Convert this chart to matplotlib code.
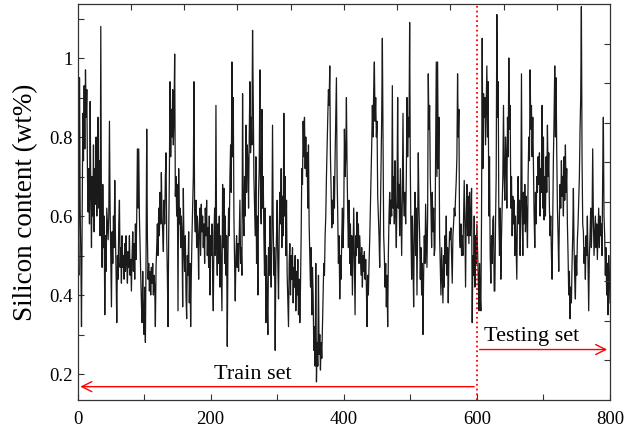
import numpy as np
import matplotlib
matplotlib.use("Agg")
from matplotlib import pyplot as plt

# silicon content, one value per sample (samples 1..800)
silicon = [
    0.59, 0.45, 0.95, 0.62, 0.50, 0.32, 0.60, 0.86, 0.74, 0.93, 0.77, 0.97, 0.85, 0.92, 0.70, 0.61, 0.72, 0.58, 0.89, 0.66,
    0.52, 0.70, 0.60, 0.78, 0.56, 0.72, 0.63, 0.80, 0.60, 0.70, 0.85, 0.62, 0.74, 0.55, 1.08, 0.58, 0.47, 0.68, 0.52, 0.60,
    0.35, 0.55, 0.46, 0.62, 0.58, 0.54, 0.60, 0.84, 0.62, 0.50, 0.37, 0.56, 0.48, 0.60, 0.52, 0.69, 0.55, 0.45, 0.33, 0.50,
    0.44, 0.58, 0.64, 0.47, 0.52, 0.43, 0.55, 0.47, 0.50, 0.44, 0.53, 0.46, 0.55, 0.48, 0.43, 0.51, 0.47, 0.55, 0.45, 0.49,
    0.41, 0.50, 0.56, 0.46, 0.53, 0.44, 0.58, 0.49, 0.60, 0.77, 0.62, 0.77, 0.60, 0.52, 0.45, 0.38, 0.33, 0.46, 0.35, 0.30,
    0.42, 0.28, 0.50, 0.82, 0.55, 0.44, 0.48, 0.41, 0.46, 0.40, 0.47, 0.43, 0.48, 0.40, 0.45, 0.42, 0.32, 0.47, 0.52, 0.58,
    0.50, 0.62, 0.55, 0.66, 0.58, 0.71, 0.60, 0.56, 0.51, 0.64, 0.58, 0.70, 0.76, 0.55, 0.45, 0.32, 0.55, 0.70, 0.94, 0.75,
    0.87, 0.80, 0.92, 0.78, 0.86, 1.01, 0.65, 0.70, 0.60, 0.68, 0.36, 0.72, 0.58, 0.62, 0.52, 0.60, 0.55, 0.37, 0.67, 0.52,
    0.46, 0.55, 0.40, 0.34, 0.50, 0.45, 0.56, 0.38, 0.48, 0.32, 0.45, 0.55, 0.62, 0.70, 0.94, 0.60, 0.56, 0.64, 0.52, 0.60,
    0.55, 0.44, 0.58, 0.62, 0.50, 0.63, 0.56, 0.60, 0.52, 0.58, 0.48, 0.62, 0.55, 0.64, 0.50, 0.57, 0.47, 0.60, 0.40, 0.55,
    0.50, 0.58, 0.45, 0.36, 0.55, 0.62, 0.50, 0.88, 0.52, 0.45, 0.58, 0.48, 0.60, 0.42, 0.55, 0.46, 0.36, 0.68, 0.52, 0.67,
    0.48, 0.60, 0.45, 0.55, 0.27, 0.50, 0.62, 0.55, 0.70, 0.78, 0.66, 0.99, 0.75, 0.90, 0.60, 0.48, 0.385, 0.50, 0.55, 0.47,
    0.53, 0.46, 0.55, 0.64, 0.48, 0.52, 0.45, 0.91, 0.62, 0.55, 0.70, 0.60, 0.83, 0.66, 0.78, 0.74, 0.62, 0.80, 0.94, 0.76,
    0.85, 0.78, 1.07, 0.90, 0.70, 0.62, 0.55, 0.75, 0.48, 0.60, 0.40, 0.66, 0.72, 0.97, 0.65, 0.58, 0.87, 0.62, 0.70, 0.55,
    0.45, 0.62, 0.33, 0.50, 0.38, 0.30, 0.52, 0.45, 0.60, 0.50, 0.42, 0.55, 0.83, 0.58, 0.45, 0.52, 0.26, 0.48, 0.55, 0.64,
    0.48, 0.39, 0.55, 0.66, 0.58, 0.72, 0.52, 0.65, 0.55, 0.86, 0.60, 0.70, 0.50, 0.64, 0.45, 0.38, 0.32, 0.48, 0.53, 0.40,
    0.50, 0.44, 0.52, 0.38, 0.47, 0.42, 0.50, 0.36, 0.46, 0.40, 0.49, 0.35, 0.44, 0.33, 0.42, 0.55, 0.72, 0.68, 0.84, 0.75,
    0.85, 0.72, 0.80, 0.70, 0.76, 0.62, 0.78, 0.58, 0.50, 0.42, 0.52, 0.35, 0.47, 0.40, 0.26, 0.32, 0.22, 0.48, 0.18, 0.28,
    0.22, 0.45, 0.25, 0.30, 0.21, 0.28, 0.24, 0.32, 0.40, 0.48, 0.45, 0.55, 0.60, 0.70, 0.78, 0.85, 0.92, 0.88, 0.98, 0.75,
    0.67, 0.57, 0.64, 0.58, 0.70, 0.62, 0.75, 0.85, 0.95, 0.70, 0.60, 0.48, 0.55, 0.39, 0.50, 0.44, 0.55, 0.62, 0.52, 0.60,
    0.82, 0.70, 0.75, 0.90, 0.72, 0.60, 0.52, 0.64, 0.48, 0.58, 0.45, 0.55, 0.40, 0.52, 0.62, 0.48, 0.35, 0.55, 0.50, 0.61,
    0.52, 0.58, 0.48, 0.55, 0.50, 0.45, 0.52, 0.42, 0.50, 0.46, 0.51, 0.44, 0.49, 0.42, 0.32, 0.45, 0.40, 0.48, 0.54, 0.62,
    0.70, 0.78, 0.88, 0.80, 0.92, 0.99, 0.84, 0.90, 0.80, 0.84, 0.65, 0.60, 0.55, 0.47, 0.60, 0.72, 0.85, 1.05, 0.80, 0.55,
    0.50, 0.42, 0.48, 0.37, 0.45, 0.32, 0.50, 0.60, 0.66, 0.58, 0.64, 0.60, 0.93, 0.62, 0.70, 0.58, 0.74, 0.60, 0.52, 0.66,
    0.90, 0.62, 0.68, 0.55, 0.72, 0.60, 0.50, 0.65, 0.86, 0.64, 0.60, 0.66, 0.58, 0.70, 0.90, 0.75, 0.85, 0.80, 1.09, 0.72,
    0.55, 0.44, 0.60, 0.50, 0.37, 0.58, 0.66, 0.50, 0.62, 0.40, 0.58, 0.76, 0.62, 0.55, 0.44, 0.52, 0.40, 0.48, 0.30, 0.45,
    0.55, 0.48, 0.63, 0.55, 0.47, 0.60, 0.96, 0.82, 0.88, 0.70, 0.62, 0.52, 0.66, 0.56, 0.62, 0.50, 0.52, 0.75, 0.99, 0.70,
    0.99, 0.72, 0.85, 0.55, 0.48, 0.40, 0.52, 0.45, 0.38, 0.50, 0.42, 0.55, 0.48, 0.60, 0.45, 0.52, 0.38, 0.50, 0.56, 0.54,
    0.57, 0.50, 0.43, 0.55, 0.58, 0.62, 0.60, 0.65, 0.69, 0.75, 0.96, 0.80, 0.87, 0.55, 0.52, 0.58, 0.50, 0.55, 0.50, 0.60,
    0.69, 0.58, 0.42, 0.60, 0.68, 0.55, 0.65, 0.53, 0.66, 0.55, 0.60, 0.67, 0.33, 0.50, 0.45, 0.60, 0.42, 0.55, 0.48, 0.58,
    0.52, 0.45, 0.36, 0.48, 0.40, 0.36, 0.60, 1.05, 0.72, 0.91, 0.85, 0.90, 0.78, 0.88, 0.98, 0.80, 0.94, 0.60, 0.75, 0.50,
    0.43, 0.55, 0.48, 0.59, 0.60, 0.41, 0.41, 0.58, 0.70, 1.11, 0.85, 0.94, 0.60, 0.50, 0.62, 0.44, 0.55, 0.62, 0.70, 0.88,
    0.70, 0.64, 0.80, 0.75, 0.62, 0.85, 0.75, 1.00, 0.82, 0.88, 0.62, 0.70, 0.55, 0.65, 0.58, 0.64, 0.50, 0.60, 0.52, 0.44,
    0.62, 0.70, 0.58, 0.64, 0.50, 0.62, 0.96, 0.62, 0.50, 0.66, 0.58, 0.68, 0.56, 0.65, 0.60, 0.52, 0.70, 0.80, 0.74, 0.97,
    0.82, 0.88, 0.75, 0.85, 0.73, 0.60, 0.52, 0.66, 0.58, 0.70, 0.66, 0.75, 0.68, 0.76, 0.60, 0.72, 0.66, 0.88, 0.62, 0.80,
    0.59, 0.70, 0.60, 0.75, 0.66, 0.83, 0.70, 0.76, 0.62, 0.55, 0.60, 0.50, 0.44, 0.60, 0.75, 0.85, 0.98, 0.80, 0.95, 0.76,
    0.62, 0.55, 0.46, 0.60, 0.68, 0.62, 0.74, 0.65, 0.70, 0.60, 0.75, 0.64, 0.78, 0.66, 0.72, 0.58, 0.50, 0.40, 0.46, 0.34,
    0.42, 0.38, 0.48, 0.55, 0.67, 0.52, 0.44, 0.39, 0.50, 0.45, 0.54, 0.58, 0.64, 0.70, 0.82, 0.90, 1.13, 0.75, 0.58, 0.56,
    0.48, 0.52, 0.44, 0.55, 0.50, 0.60, 0.48, 0.36, 0.50, 0.55, 0.62, 0.52, 0.58, 0.77, 0.60, 0.50, 0.55, 0.60, 0.52, 0.58,
    0.49, 0.56, 0.62, 0.52, 0.60, 0.55, 0.58, 0.50, 0.70, 0.85, 0.60, 0.55, 0.45, 0.52, 0.40, 0.48, 0.35, 0.50, 0.45, 0.38,
]
sample = np.arange(1, len(silicon) + 1)

split = 600
n_total = 800
train_label = "Train set"
test_label = "Testing set"
xticks = [0, 200, 400, 600, 800]
yticks = [0.2, 0.4, 0.6, 0.8, 1.0]
ytick_labels = ["0.2", "0.4", "0.6", "0.8", "1"]

plt.rcParams["font.family"] = ["Liberation Serif", "DejaVu Serif"]
plt.rcParams["font.size"] = 13.5

fig = plt.figure(figsize=(6.25, 4.33), dpi=100)
pos = [0.124, 0.076, 0.852, 0.915]
ax = fig.add_axes(pos)

ax.plot(sample, silicon, color="#1a1a1a", lw=0.9)

ax.axvline(split, color="red", ls=":", lw=1.3)
ax.annotate("", xy=(0, 0.168), xytext=(split, 0.168),
            arrowprops=dict(arrowstyle="->", color="red", lw=1, mutation_scale=18))
ax.annotate("", xy=(n_total, 0.262), xytext=(split, 0.262),
            arrowprops=dict(arrowstyle="->", color="red", lw=1, mutation_scale=18))
ax.text(264, 0.176, train_label, ha="center", va="bottom", fontsize=16)
ax.text(683, 0.270, test_label, ha="center", va="bottom", fontsize=16)

ax.set_xlim(0, n_total)
ax.set_ylim(0.134, 1.137)
ax.set_xticks(xticks)
ax.set_xticks([100, 300, 500, 700], minor=True)
ax.set_yticks(yticks)
ax.set_yticklabels(ytick_labels)
ax.set_yticks([0.3, 0.5, 0.7, 0.9, 1.1], minor=True)
ax.tick_params(which="both", direction="in", length=4, width=0.8, color="#333333")
ax.tick_params(axis="x", pad=8)
ax.set_ylabel("Silicon content (wt%)", fontsize=19.5, labelpad=8)
for s in ax.spines.values():
    s.set_color("#333333")
    s.set_linewidth(0.9)

# box ticks on top and right, like the original
ax2 = fig.add_axes(pos, facecolor="none")
ax2.set_xlim(0, 1)
ax2.set_ylim(0, 1)
ax2.set_xticks(np.arange(1, 10) / 10)
ax2.set_yticks(np.arange(1, 10) / 10)
ax2.tick_params(direction="in", length=4, width=0.8, color="#333333",
                top=True, right=True, bottom=False, left=False,
                labeltop=False, labelright=False, labelbottom=False, labelleft=False)
for s in ax2.spines.values():
    s.set_visible(False)

fig.savefig("out.png", dpi=100)
